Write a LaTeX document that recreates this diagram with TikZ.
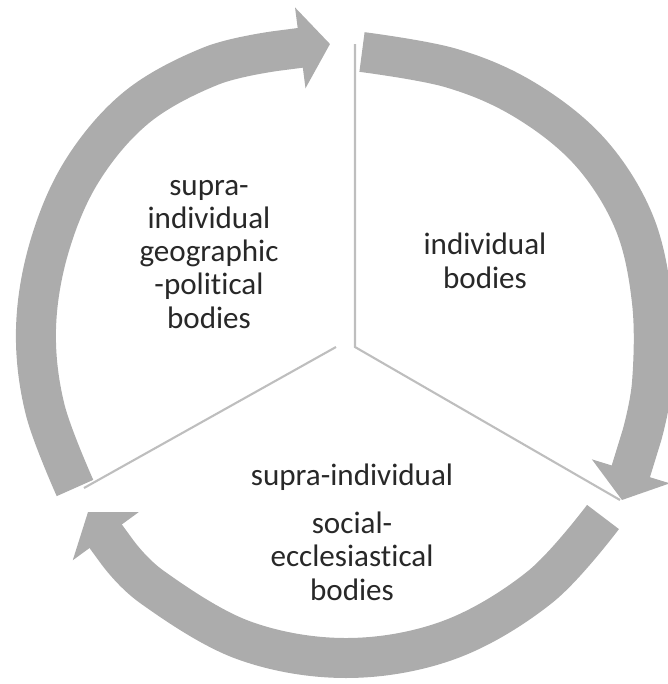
\documentclass[tikz,border=0pt]{standalone}
\usepackage{fontspec}
\setmainfont[Ligatures=NoCommon]{Carlito}
\usepackage{tikz}
\usetikzlibrary{arrows.meta}
\definecolor{bandgray}{RGB}{172,172,172}
\definecolor{linegray}{RGB}{190,190,190}
\definecolor{txtgray}{RGB}{40,40,40}
\tikzset{
    band/.style={
           draw=bandgray,
           line width=0.8cm,
           line join=round,
           -{Triangle[length=0.6cm, width=1.6cm]}},
    sep/.style={
           draw=linegray,
           line width=1.2pt},
    lbl/.style={
           align=center,
           text=txtgray,
           inner sep=0pt}
}

\begin{document}
\begin{tikzpicture}[x=0.02cm, y=-0.02cm]
          \useasboundingbox (0,0) rectangle (668,684);
          \fontsize{17.7pt}{18.8pt}\selectfont
          % sector edges
          \coordinate (hub) at (355,347);
          \coordinate (hubl) at (336,347);
          \coordinate (topend) at (355,44);
          \coordinate (rightend) at (620,500);
          \coordinate (leftend) at (84,488);
          \draw[sep] (topend) -- (hub) -- (rightend);
          \draw[sep] (hubl) -- (leftend);
          % the three arrows
          \draw[band] plot[smooth, tension=0.6] coordinates {(75,488) (45,409) (36,329) (49,248) (82,171) (137,107) (211,66) (276,51)} -- (330,44);
          \draw[band] plot[smooth, tension=0.6] coordinates {(362,52) (451,68) (525,100) (590,152) (634,222) (652,302) (652,383) (642,435)} -- (622,500);
          \draw[band] plot[smooth, tension=0.6] coordinates {(603,517) (540,587) (449,640) (346,658) (243,640) (152,587) (115,549)} -- (88,512);
          % labels
          \node[lbl, anchor=base] (geo) at (209,328) {supra-\\individual\\geographic\\-political\\bodies};
          \node[lbl, anchor=base] (indiv) at (485,288) {individual\\bodies};
          \node[lbl, anchor=base] (eccl) at (352,600) {supra-individual\\[0.3cm]social-\\ecclesiastical\\bodies};
\end{tikzpicture}
\end{document}
